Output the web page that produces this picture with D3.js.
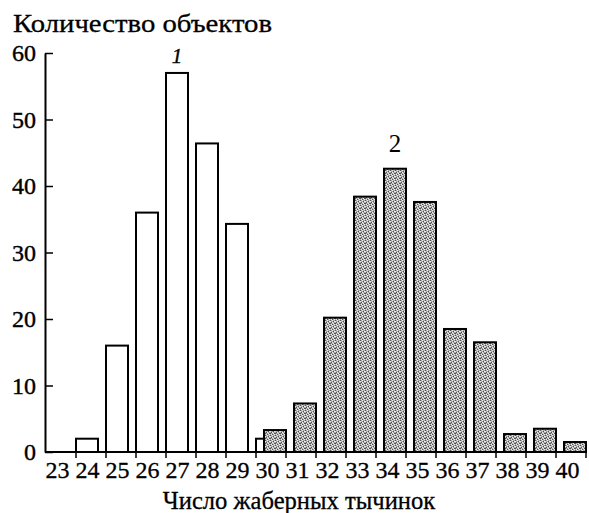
<!DOCTYPE html>
<html>
<head>
<meta charset="utf-8">
<script src="https://cdn.jsdelivr.net/npm/d3@7"></script>
<style>
  body { margin: 0; background: #fff; }
  svg text { font-family: "Liberation Serif", "DejaVu Serif", serif; }
</style>
</head>
<body>
<div id="chart"></div>
<script>
// Data
var categories = ["23","24","25","26","27","28","29","30","31","32","33","34","35","36","37","38","39","40"];
var group1Cats = ["24","25","26","27","28","29","30"];
var group1Values = [2, 16, 36, 57, 46.4, 34.3, 2];
var group2Cats = ["30","31","32","33","34","35","36","37","38","39","40"];
var group2Values = [3.3, 7.3, 20.2, 38.4, 42.6, 37.6, 18.5, 16.5, 2.7, 3.5, 1.5];
var yTicks = [0, 10, 20, 30, 40, 50, 60];

var W = 589, H = 513;
var serif = "Liberation Serif, DejaVu Serif, serif";

var svg = d3.select("#chart").append("svg")
  .attr("width", W)
  .attr("height", H);

// speckled fill for the second group (a fixed 5x5 tile)
var darkDots = [[0,0],[3,1],[1,2],[4,3],[2,4],[0,3]];
var lightDots = [[2,0],[4,1],[0,1],[3,3],[1,4],[4,4],[2,2]];
var defs = svg.append("defs");
var pat = defs.append("pattern")
  .attr("id", "dots")
  .attr("width", 5).attr("height", 5)
  .attr("patternUnits", "userSpaceOnUse");
pat.append("rect").attr("width", 5).attr("height", 5).attr("fill", "#ababab");
pat.selectAll("rect.d")
  .data(darkDots)
  .join("rect")
  .attr("class", "d")
  .attr("x", function(d) { return d[0]; })
  .attr("y", function(d) { return d[1]; })
  .attr("width", 1).attr("height", 1)
  .attr("fill", "#505050");
pat.selectAll("rect.l")
  .data(lightDots)
  .join("rect")
  .attr("class", "l")
  .attr("x", function(d) { return d[0]; })
  .attr("y", function(d) { return d[1]; })
  .attr("width", 1).attr("height", 1)
  .attr("fill", "#ebebeb");

// scales
var x = d3.scaleBand().domain(categories).range([46, 586]).padding(0);
var y = d3.scaleLinear().domain([0, 60]).range([452, 53]);
var barW = 22;

// bars of group 1 sit at the left of their band
svg.append("g").selectAll("rect")
  .data(group1Cats.map(function(c, i) { return {c: c, v: group1Values[i]}; }))
  .join("rect")
  .attr("x", function(d) { return x(d.c); })
  .attr("y", function(d) { return y(d.v); })
  .attr("width", barW)
  .attr("height", function(d) { return y(0) - y(d.v); })
  .attr("fill", "#fff")
  .attr("stroke", "#000")
  .attr("stroke-width", 2);

// bars of group 2 sit at the right of their band
svg.append("g").selectAll("rect")
  .data(group2Cats.map(function(c, i) { return {c: c, v: group2Values[i]}; }))
  .join("rect")
  .attr("x", function(d) { return x(d.c) + x.bandwidth() - barW; })
  .attr("y", function(d) { return y(d.v); })
  .attr("width", barW)
  .attr("height", function(d) { return y(0) - y(d.v); })
  .attr("fill", "url(#dots)")
  .attr("stroke", "#000")
  .attr("stroke-width", 2);

// y axis
var yAxis = svg.append("g")
  .attr("transform", "translate(45,0)")
  .call(d3.axisLeft(y).tickValues(yTicks).tickSizeInner(-8).tickSizeOuter(0).tickPadding(9));
yAxis.attr("font-family", serif);
yAxis.select(".domain").attr("stroke-width", 2);
yAxis.selectAll(".tick line").attr("stroke-width", 1.5);
yAxis.selectAll("text")
  .attr("font-size", 24)
  .attr("font-family", serif)
  .attr("fill", "#000")
  .attr("stroke", "#000")
  .attr("stroke-width", 0.4);

// x axis line
svg.append("line")
  .attr("x1", 45).attr("x2", x.range()[1])
  .attr("y1", y(0)).attr("y2", y(0))
  .attr("stroke", "#000").attr("stroke-width", 2);

// x ticks at band boundaries
var bounds = categories.slice(1).map(function(c) { return x(c); }).concat([x.range()[1]]);
svg.append("g").selectAll("line")
  .data(bounds)
  .join("line")
  .attr("x1", function(d) { return d; }).attr("x2", function(d) { return d; })
  .attr("y1", y(0)).attr("y2", y(0) + 6)
  .attr("stroke", "#000").attr("stroke-width", 1.5);

// x labels, centred under the first-group bar position
svg.append("g").selectAll("text")
  .data(categories)
  .join("text")
  .attr("x", function(d) { return x(d) + barW / 2 + 0.5; })
  .attr("y", 478)
  .attr("text-anchor", "middle")
  .attr("font-family", serif)
  .attr("font-size", 24)
  .attr("stroke", "#000")
  .attr("stroke-width", 0.3)
  .text(function(d) { return d; });

// titles (the scanned type is wider than Times, so stretch to its width)
svg.append("text")
  .attr("x", 13).attr("y", 32)
  .attr("font-family", serif)
  .attr("font-size", 25.5)
  .attr("textLength", 259)
  .attr("lengthAdjust", "spacingAndGlyphs")
  .attr("stroke", "#000")
  .attr("stroke-width", 0.3)
  .text("Количество объектов");

svg.append("text")
  .attr("x", 299).attr("y", 509)
  .attr("text-anchor", "middle")
  .attr("font-family", serif)
  .attr("font-size", 24.6)
  .attr("stroke", "#000")
  .attr("stroke-width", 0.3)
  .text("Число жаберных тычинок");

// group labels
svg.append("text")
  .attr("x", x("27") + barW / 2).attr("y", 63)
  .attr("text-anchor", "middle")
  .attr("font-family", serif)
  .attr("font-size", 21)
  .attr("font-style", "italic")
  .attr("stroke", "#000")
  .attr("stroke-width", 0.4)
  .text("1");

svg.append("text")
  .attr("x", x("34") + x.bandwidth() - barW / 2).attr("y", 152)
  .attr("text-anchor", "middle")
  .attr("font-family", serif)
  .attr("font-size", 25)
  .text("2");
</script>
</body>
</html>
